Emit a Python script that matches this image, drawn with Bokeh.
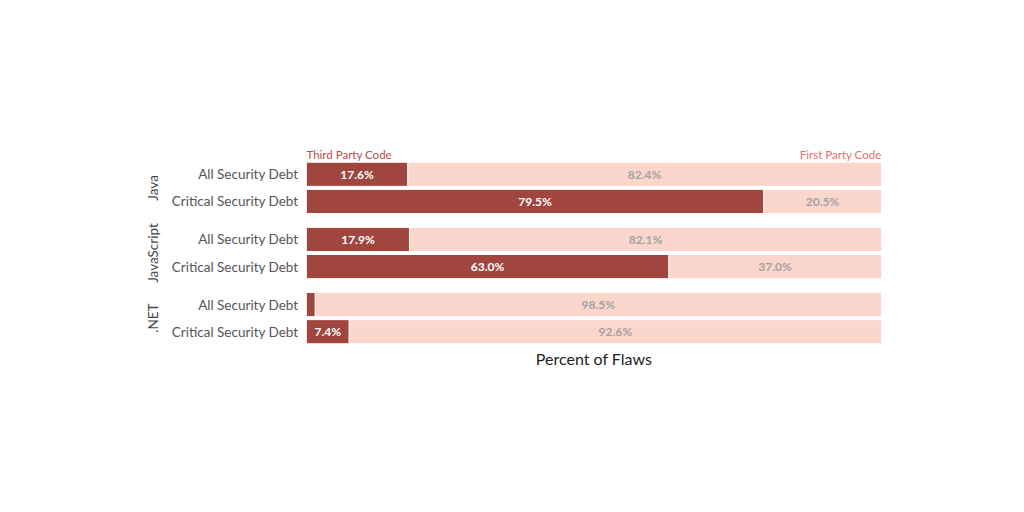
from bokeh.plotting import figure
from bokeh.models import FactorRange, Range1d, ColumnDataSource, Label
from bokeh.core.properties import value
from bokeh.embed import file_html
from bokeh.resources import INLINE

languages = ["Java", "JavaScript", ".NET"]
debt_types = ["All Security Debt", "Critical Security Debt"]
third_party_all = [17.6, 17.9, 1.5]
third_party_crit = [79.5, 63.0, 7.4]
first_party_all = [82.4, 82.1, 98.5]
first_party_crit = [20.5, 37.0, 92.6]

DARK = "#a0463f"
LIGHT = "#fbd6cc"
FONT = "Lato"

rows, third, first = [], [], []
for i, lang in enumerate(languages):
    rows.append((lang, debt_types[0])); third.append(third_party_all[i]); first.append(first_party_all[i])
    rows.append((lang, debt_types[1])); third.append(third_party_crit[i]); first.append(first_party_crit[i])

factors = list(reversed(rows))

src = ColumnDataSource(dict(
    y=rows, third=third, first=first,
    third_mid=[t / 2 for t in third],
    first_mid=[t + f / 2 for t, f in zip(third, first)],
    third_lbl=[f"{t:.1f}%" if t >= 5 else "" for t in third],
    first_lbl=[f"{f:.1f}%" for f in first],
    total=[t + f for t, f in zip(third, first)],
))

yr = FactorRange(*factors, group_padding=0.4, factor_padding=0.0,
                 range_padding=0.45, range_padding_units="absolute")

p = figure(width=1008, height=450, y_range=yr, x_range=Range1d(0, 100),
           output_backend="svg", toolbar_location=None,
           min_border_left=306, min_border_right=127, min_border_top=148, min_border_bottom=93)
p.outline_line_color = None
p.grid.visible = False
p.background_fill_color = "white"

p.hbar(y="y", left="third", right="total", height=0.89, source=src,
       fill_color=LIGHT, line_color="white", line_width=1)
p.hbar(y="y", left=0, right="third", height=0.89, source=src,
       fill_color=DARK, line_color="white", line_width=1)

p.text(x="third_mid", y="y", text="third_lbl", source=src, text_align="center",
       text_baseline="middle", text_color="white", text_font_size="12px",
       text_font_style="bold", text_font=value(FONT))
p.text(x="first_mid", y="y", text="first_lbl", source=src, text_align="center",
       text_baseline="middle", text_color="#a3a3a3", text_font_size="12px",
       text_font_style="bold", text_font=value(FONT))

p.add_layout(Label(x=0, y=6.8, y_offset=0, text="Third Party Code", text_align="left",
                   text_baseline="bottom", text_color="#b34f49", text_font_size="11.5px",
                   text_font=FONT))
p.add_layout(Label(x=100, y=6.8, y_offset=0, text="First Party Code", text_align="right",
                   text_baseline="bottom", text_color="#ee6c6c", text_font_size="11.5px",
                   text_font=FONT))

ya = p.yaxis[0]
ya.axis_line_color = None
ya.major_tick_line_color = None
ya.major_tick_out = 0
ya.major_tick_in = 0
ya.major_label_standoff = 8
ya.major_label_text_font = FONT
ya.major_label_text_font_size = "13.5px"
ya.major_label_text_color = "#555555"
ya.group_text_font = FONT
ya.group_text_font_size = "13.5px"
ya.group_text_color = "#444444"
ya.group_text_font_style = "normal"
ya.group_label_orientation = "vertical"
ya.separator_line_color = None

xa = p.xaxis[0]
xa.ticker = []
xa.axis_line_color = None
xa.major_tick_line_color = None
xa.major_tick_out = 0
xa.major_tick_in = 0
xa.major_label_text_font_size = "0px"
xa.major_label_standoff = 0
xa.axis_label = "Percent of Flaws"
xa.axis_label_text_font = FONT
xa.axis_label_text_font_size = "16px"
xa.axis_label_text_font_style = "normal"
xa.axis_label_text_color = "#222222"
xa.axis_label_standoff = -9

open("out.html", "w").write(file_html(p, INLINE))
